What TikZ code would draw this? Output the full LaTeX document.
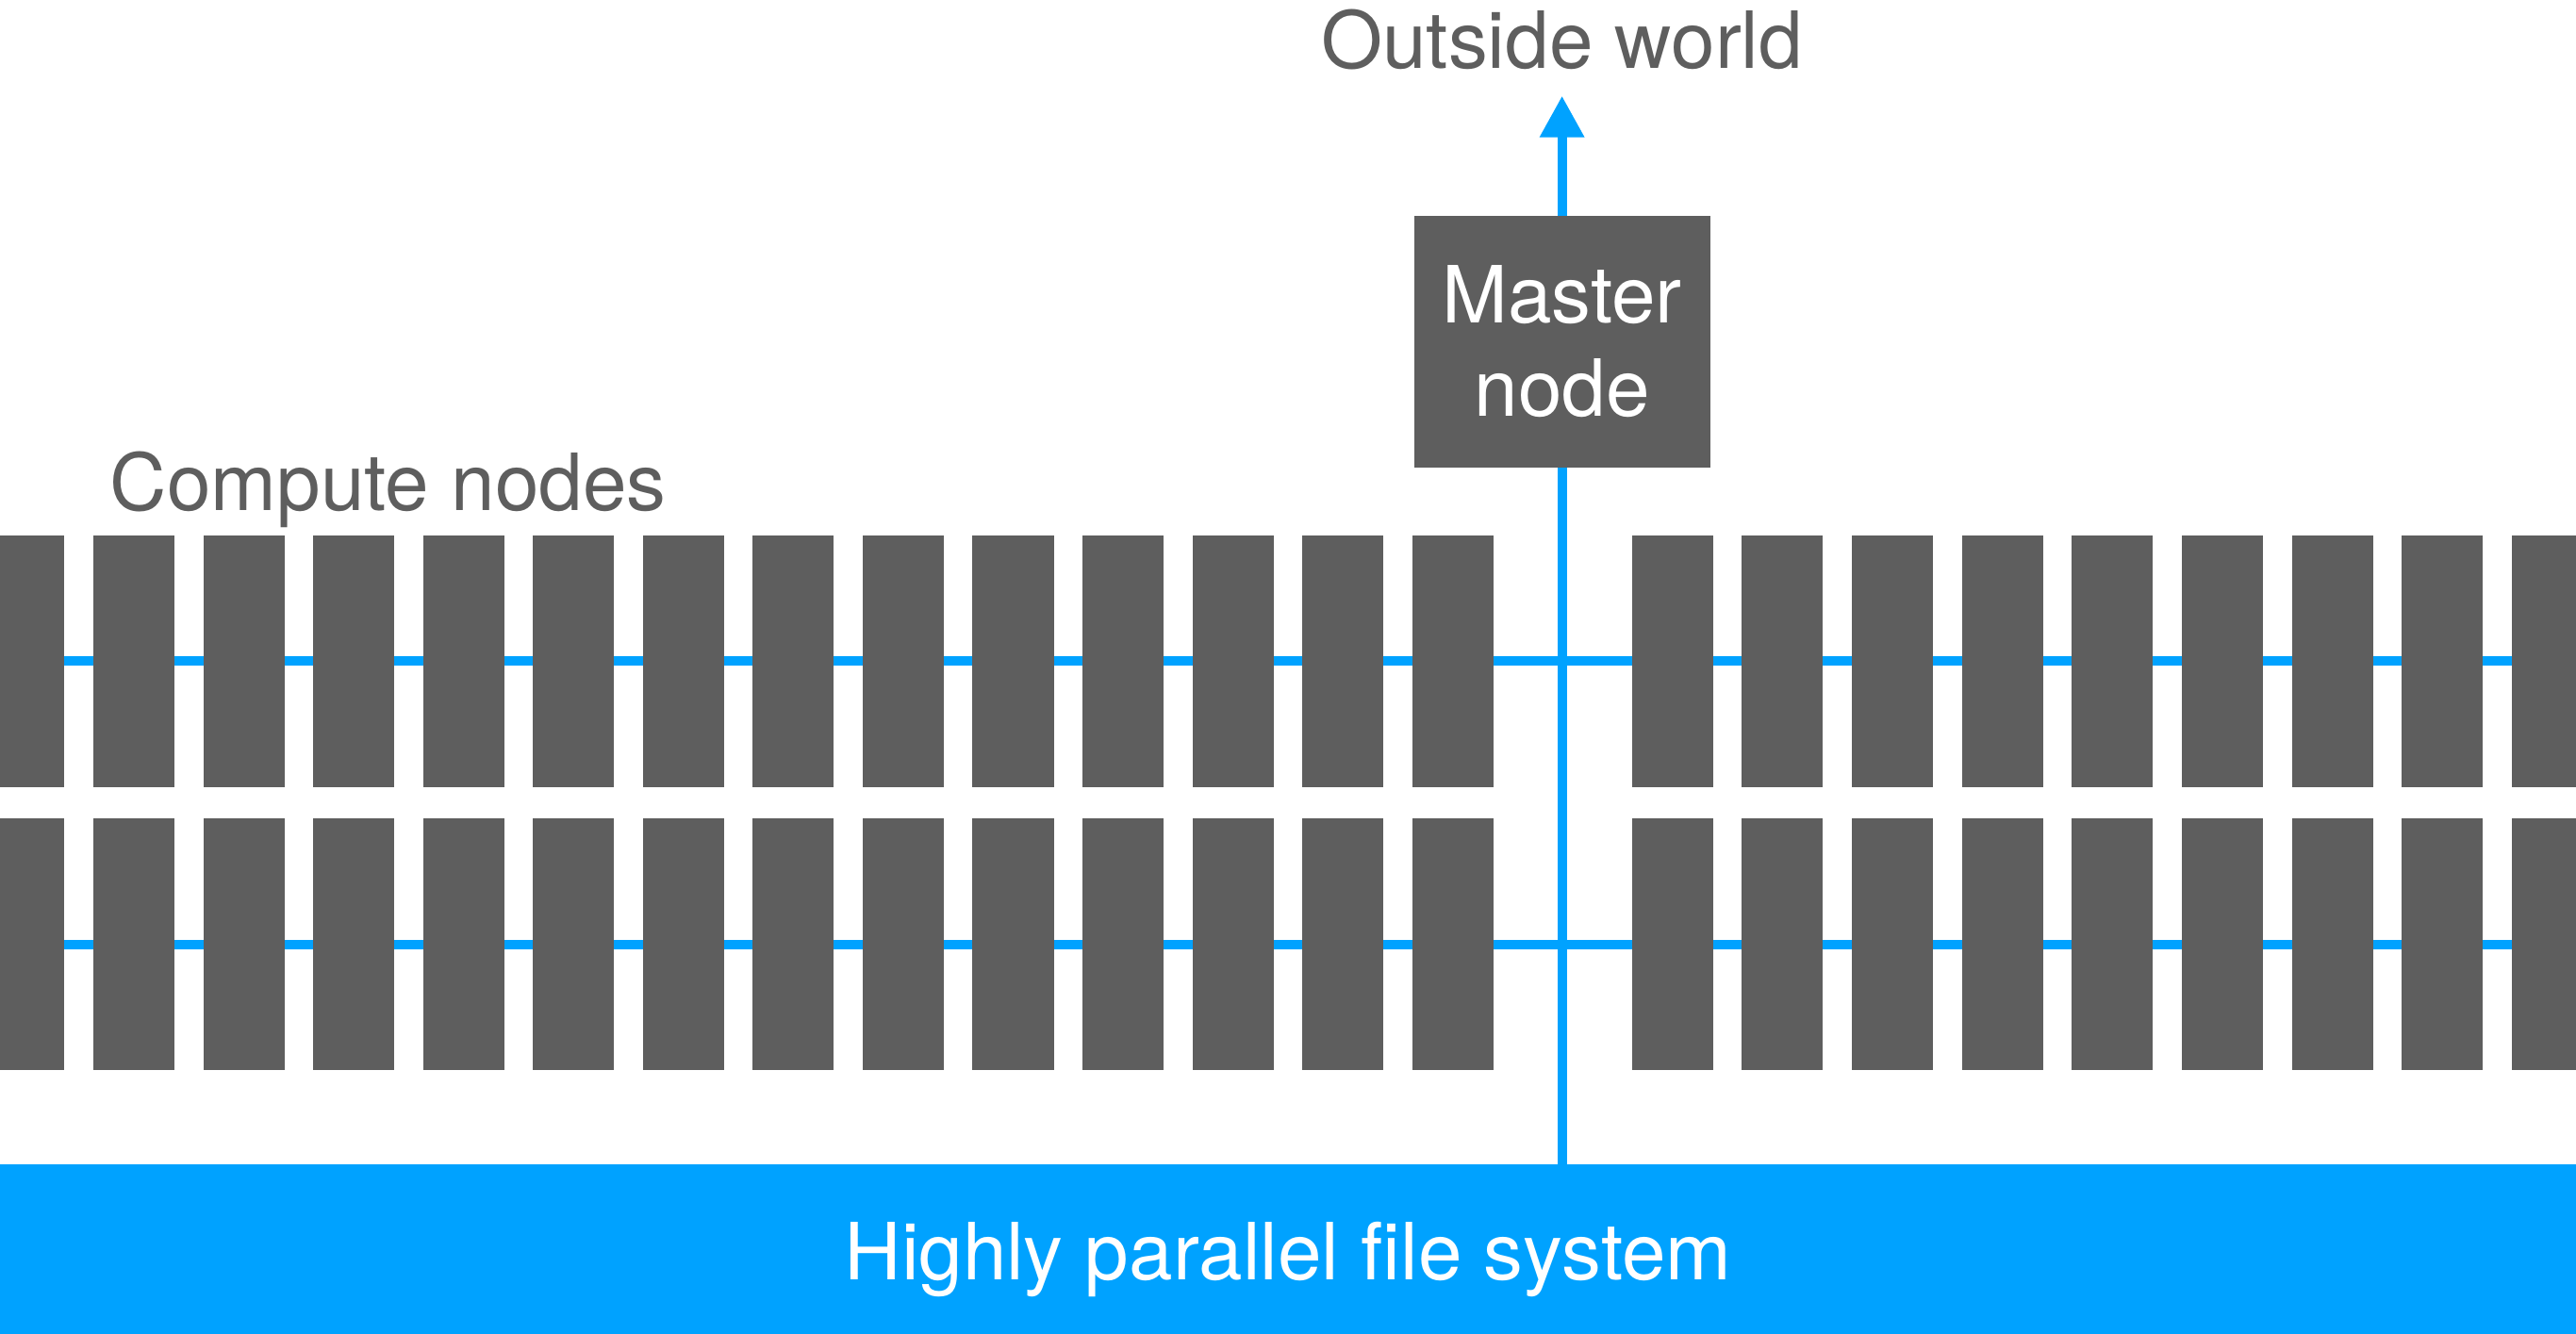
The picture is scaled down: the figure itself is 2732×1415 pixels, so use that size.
\documentclass[tikz,border=0pt]{standalone}
\usepackage{fontspec}
\setmainfont{TeX Gyre Heros}
\usetikzlibrary{arrows.meta,backgrounds}
\definecolor{cgray}{HTML}{5E5E5E}
\definecolor{cblue}{HTML}{00A2FF}
\tikzset{
  cnode/.style={rectangle, fill=cgray, draw=none, inner sep=0pt, outer sep=0pt,
    minimum width=0.86cm, minimum height=2.666cm},
  bluelink/.style={draw=cblue, line width=0.10cm},
  uplink/.style={draw=cblue, line width=0.10cm},
  lbl/.style={text=cgray, inner sep=0pt, font=\fontsize{23.8}{28.1}\selectfont},
}
\begin{document}
\begin{tikzpicture}[x={(0.01cm,0)}, y={(0,-0.01cm)}]
\useasboundingbox (0,0) rectangle (2732,1415);
\clip (0,0) rectangle (2732,1415);
% compute nodes, left group
\foreach \k in {0,...,13}{
  \pgfmathsetmacro{\cx}{142+116.56*(\k-1)}
  \node[cnode] (a\k) at (\cx,701.3) {};
  \node[cnode] (b\k) at (\cx,1001.5) {};
}
% compute nodes, right group
\foreach \k in {0,...,8}{
  \pgfmathsetmacro{\cx}{1773.7+116.67*\k}
  \node[cnode] (c\k) at (\cx,701.3) {};
  \node[cnode] (d\k) at (\cx,1001.5) {};
}
% master node
\node[rectangle, fill=cgray, inner sep=0pt, outer sep=0pt,
      minimum width=3.14cm, minimum height=2.667cm,
      text=white, align=center, font=\fontsize{23.8}{28.1}\selectfont]
  (master) at (1656.6,362.3) {Master\\node};
% file system bar
\node[rectangle, fill=cblue, inner sep=0pt, outer sep=0pt,
      minimum width=27.32cm, minimum height=1.8cm, anchor=north west]
  (fs) at (0,1235) {};
\node[lbl, text=white, anchor=base] (fstext) at (1366,1357) {Highly parallel file system};
% labels
\node[lbl, anchor=base west] (ctext) at (116,541.7) {Compute nodes};
\node[lbl, anchor=base] (otext) at (1656.6,72) {Outside world};
\coordinate (out) at (1656.6,101.7);
% connectors
\begin{scope}[on background layer]
  \draw[bluelink] (a0.center) -- (c8.center);
  \draw[bluelink] (b0.center) -- (d8.center);
  \draw[uplink] (master.south) -- (master.south |- fs.north);
\end{scope}
\draw[uplink, -{Triangle[width=0.45cm,length=0.44cm]}] (master.north) -- (out);
\end{tikzpicture}
\end{document}
